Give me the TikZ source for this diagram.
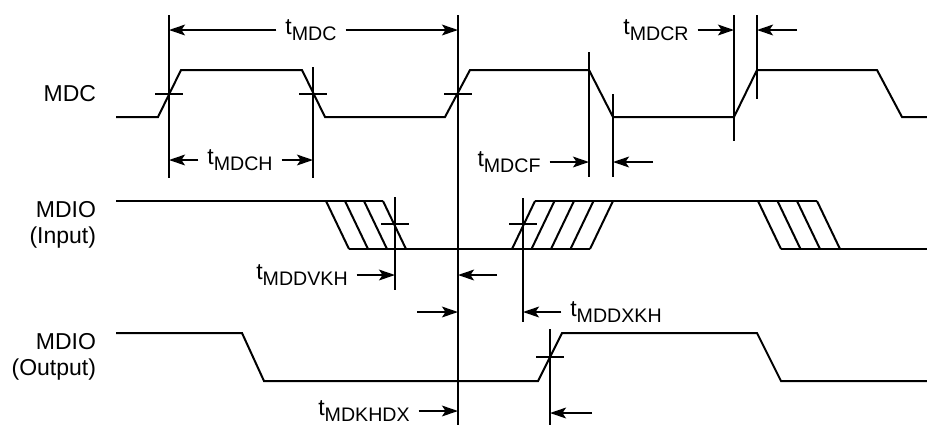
\documentclass[tikz,border=0pt]{standalone}
\usepackage{fontspec}
\setmainfont{Liberation Sans}
\usetikzlibrary{arrows.meta}
\tikzstyle{wave} = [line width=1pt, line join=miter]
\tikzstyle{refline} = [line width=1pt]
\tikzstyle{signal} = [anchor=east, align=right, inner sep=0pt,
    font=\fontsize{11.5pt}{13pt}\selectfont]
\tikzstyle{timing} = [inner ysep=0pt, inner xsep=4pt,
    font=\fontsize{11.5pt}{13pt}\selectfont]
\newcommand{\tsub}[1]{t\raisebox{-3pt}{\fontsize{9.8pt}{10pt}\selectfont #1}}

\begin{document}
\begin{tikzpicture}[x=0.5pt, y=-0.5pt, line width=1pt,
    >={Stealth[length=8pt, width=5.4pt, inset=1.8pt]}]
      \useasboundingbox (0,0) rectangle (927,425);

      % signal names
      \node[signal] (mdc) at (97,94) {MDC};
      \node[signal] (mdio_in) at (97,225) {MDIO\\(Input)};
      \node[signal] (mdio_out) at (97,357) {MDIO\\(Output)};

      % MDC clock
      \draw[wave] (116,117) -- (158,117) -- (181,70) -- (302,70) -- (325,117)
          -- (445,117) -- (470,70) -- (589,70) -- (613,117) -- (734,117)
          -- (757,70) -- (877,70) -- (902,117) -- (927,117);

      % MDIO input, with the hatched transitions
      \draw[wave] (116,201) -- (383,201);
      \draw[wave] (349,249) -- (590,249);
      \draw[wave] (535,201) -- (817,201);
      \draw[wave] (781,249) -- (927,249);
      \foreach \x in {326,345,364,383}
          \draw[wave] (\x,201) -- ++(23,48);
      \foreach \x in {512,531.5,551,570.5,590}
          \draw[wave] (\x,249) -- ++(23,-48);
      \foreach \x in {758,777.5,797,817}
          \draw[wave] (\x,201) -- ++(23,48);

      % MDIO output
      \draw[wave] (116,333) -- (242,333) -- (264,381) -- (538,381) -- (562,333)
          -- (757,333) -- (781,381) -- (927,381);

      % reference lines
      \foreach \n/\x/\ya/\yb in {1/169/15/178, 2/313/67/178, 3/458/15/425,
          4/589/52/177, 5/613/94/177, 6/734/15/141, 7/757/15/99,
          8/395/197/290, 9/523/198/322, 10/550/329/425} {
        \coordinate (c\n) at (\x,\ya);
        \draw[refline] (c\n) -- (\x,\yb);
      }
      % crossing marks
      \foreach \x/\y in {169/94, 313/94, 458/94, 395/224, 523/224, 550/357}
          \draw[refline] (\x-14,\y) -- (\x+14,\y);

      % timing labels
      \node[timing] (tmdc) at (311,30) {\tsub{MDC}};
      \node[timing] (tmdch) at (240,160) {\tsub{MDCH}};
      \node[timing] (tmdcf) at (509,162) {\tsub{MDCF}};
      \node[timing] (tmdcr) at (656,30) {\tsub{MDCR}};
      \node[timing] (tmddvkh) at (302,275) {\tsub{MDDVKH}};
      \node[timing] (tmddxkh) at (616,312) {\tsub{MDDXKH}};
      \node[timing] (tmdkhdx) at (364,411) {\tsub{MDKHDX}};

      % free ends of the outside arrows
      \coordinate (mdcf_r) at (653,162);
      \coordinate (mdcr_r) at (797,30);
      \coordinate (mddvkh_r) at (497,275);
      \coordinate (mddxkh_l) at (417,312);
      \coordinate (mdkhdx_r) at (592,413);

      % arrows
      \draw[->] (tmdc.west) -- (tmdc.west -| c1);
      \draw[->] (tmdc.east) -- (tmdc.east -| c3);
      \draw[->] (tmdch.west) -- (tmdch.west -| c1);
      \draw[->] (tmdch.east) -- (tmdch.east -| c2);
      \draw[->] (tmdcf.east) -- (tmdcf.east -| c4);
      \draw[->] (mdcf_r) -- (mdcf_r -| c5);
      \draw[->] (tmdcr.east) -- (tmdcr.east -| c6);
      \draw[->] (mdcr_r) -- (mdcr_r -| c7);
      \draw[->] (tmddvkh.east) -- (tmddvkh.east -| c8);
      \draw[->] (mddvkh_r) -- (mddvkh_r -| c3);
      \draw[->] (mddxkh_l) -- (mddxkh_l -| c3);
      \draw[->] (tmddxkh.west) -- (tmddxkh.west -| c9);
      \draw[->] (tmdkhdx.east) -- (tmdkhdx.east -| c3);
      \draw[->] (mdkhdx_r) -- (mdkhdx_r -| c10);
\end{tikzpicture}
\end{document}
